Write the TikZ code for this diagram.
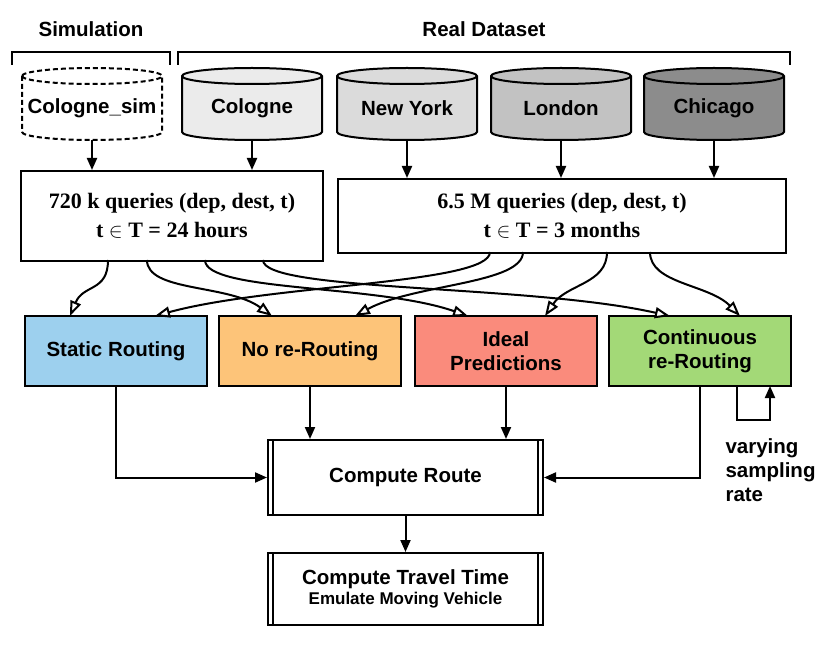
\documentclass[tikz,border=0pt]{standalone}
\usepackage{fontspec}
\setmainfont{Liberation Serif}
\setsansfont{Liberation Sans}
\usetikzlibrary{arrows.meta}
\tikzset{
  lbl/.style={font=\sffamily\bfseries\fontsize{20.5}{24}\selectfont, align=center},
  qry/.style={draw, line width=2pt, font=\rmfamily\bfseries\fontsize{22}{29}\selectfont, align=center, anchor=north west},
  cbox/.style={draw, line width=2pt, minimum width=182pt, minimum height=70pt, lbl},
  farr/.style={line width=2pt, -{Triangle[length=12pt,width=10pt]}},
  oarr/.style={line width=2pt, -{Triangle[open,length=15pt,width=11pt,fill=white]}},
  brace/.style={line width=2pt}
}
\newcommand{\mycyl}[5]{%
  \path[draw, line width=2pt, fill=#3, #4] (#2-70,76) -- (#2-70,132) arc(180:0:70 and 8) -- (#2+70,76) arc(0:-180:70 and 8) -- cycle;
  \draw[line width=2pt, #4] (#2-70,76) arc(180:0:70 and 8);
  \node[lbl] (#1) at (#2,108) {#5};}
\begin{document}
\begin{tikzpicture}[x=1pt,y=-1pt]
\useasboundingbox (0,0) rectangle (838,652);
% headers
\node[lbl] (hsim) at (91,29) {Simulation};
\node[lbl] (hreal) at (484,29) {Real Dataset};
\draw[brace] (12,65) -- (12,52) -- (170,52) -- (170,65);
\draw[brace] (178,65) -- (178,52) -- (790,52) -- (790,65);
% cylinders
\mycyl{csim}{92}{white}{dash pattern=on 5pt off 3pt}{Cologne\_sim}
\mycyl{col}{252}{black!8}{}{Cologne}
\mycyl{ny}{407}{black!14}{}{New York}
\mycyl{lon}{561}{black!24}{}{London}
\mycyl{chi}{714}{black!45}{}{Chicago}
% query boxes
\node[qry, minimum width=302pt, minimum height=90pt] (q1) at (20,170) {720 k queries (dep, dest, t)\\t \ensuremath{\in} T = 24 hours};
\node[qry, minimum width=448pt, minimum height=74pt] (q2) at (337,178) {6.5 M queries (dep, dest, t)\\t \ensuremath{\in} T = 3 months};
\draw[farr] (92,140) -- (92,170);
\draw[farr] (252,140) -- (252,170);
\draw[farr] (407,140) -- (407,178);
\draw[farr] (561,140) -- (561,178);
\draw[farr] (714,140) -- (714,178);
% colored boxes
\node[cbox, fill={rgb,255:red,157;green,208;blue,238}] (st) at (116,351) {Static Routing};
\node[cbox, fill={rgb,255:red,253;green,196;blue,121}] (nr) at (310,351) {No re-Routing};
\node[cbox, fill={rgb,255:red,250;green,139;blue,124}] (ip) at (506,351) {Ideal\\Predictions};
\node[cbox, fill={rgb,255:red,163;green,217;blue,119}] (cr2) at (700,351) {Continuous\\re-Routing};
% curved connectors
\foreach \sx/\sy/\tx in {108/260/70, 147/260/272, 205/260/468, 263/260/670, 490/252/155, 523/252/355, 607/252/545, 650/252/740}{
  \pgfmathsetmacro{\cx}{\tx+0.35*(\sx-\tx)}
  \draw[oarr] (\sx,\sy) .. controls (\sx,\sy+32) and (\cx,284) .. (\tx,316);}
% compute boxes
\node[draw, line width=2pt, minimum width=275pt, minimum height=75pt, lbl] (cr) at (405.5,477.5) {Compute Route};
\draw[line width=2pt] ([xshift=6pt]cr.north west) -- ([xshift=6pt]cr.south west);
\draw[line width=2pt] ([xshift=-6pt]cr.north east) -- ([xshift=-6pt]cr.south east);
\node[draw, line width=2pt, minimum width=275pt, minimum height=72pt, lbl, align=center] (tt) at (405.5,589) {Compute Travel Time\\[-4pt]{\fontsize{17}{20}\selectfont Emulate Moving Vehicle}};
\draw[line width=2pt] ([xshift=6pt]tt.north west) -- ([xshift=6pt]tt.south west);
\draw[line width=2pt] ([xshift=-6pt]tt.north east) -- ([xshift=-6pt]tt.south east);
\draw[farr] (st.south) |- (cr.west);
\draw[farr] (nr.south) -- (nr.south |- cr.north);
\draw[farr] (ip.south) -- (ip.south |- cr.north);
\draw[farr] (cr2.south) |- (cr.east);
\draw[farr] (cr.south) -- (tt.north);
% loop
\coordinate (l1) at (737,386);
\coordinate (l2) at (770,386);
\draw[farr] (l1) -- (737,420) -- (770,420) -- (l2);
\node[lbl, align=left, anchor=north west] (vsr) at (722,435) {varying\\sampling\\rate};
\end{tikzpicture}
\end{document}
